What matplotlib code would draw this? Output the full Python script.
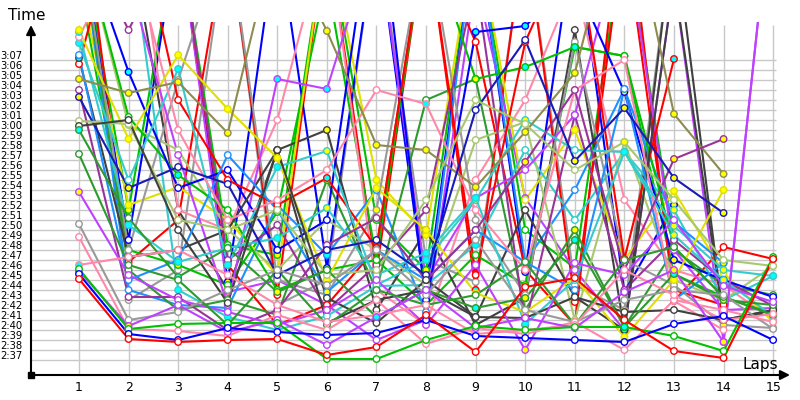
import numpy as np
import matplotlib
matplotlib.use("Agg")
import matplotlib.pyplot as plt
from matplotlib.transforms import ScaledTranslation

N = np.nan
laps = list(range(1, 16))
tick_secs = list(range(157, 188))  # 2:37 .. 3:07

# lap times in seconds, one list per driver (values > 191 run off the top)
d01 = [165.1, 159.1, 158.8, 159.0, 159.1, 157.5, 158.3, 161.5, 157.8, 164.3, 165.2, 161.0, 157.9, 157.2, 167.1]
d02 = [165.6, 159.6, 159.0, 160.2, 159.8, 159.5, 159.7, 161.0, 159.4, 159.2, 159.0, 158.8, 160.6, 161.4, 159.0]
d03 = [166.1, 160.1, 160.6, 160.7, 160.7, 157.1, 157.1, 159.0, 160.4, 160.0, 160.3, 160.3, 159.4, 157.9, 167.3]
d04 = [165.9, 160.4, 162.5, 159.8, 161.0, 158.5, 161.3, 164.0, 160.2, 161.2, 160.2, 163.8, 166.0, 158.8, 205.0]
d05 = [166.5, 167.3, 168.0, 165.5, 162.5, 160.8, 161.5, 162.5, 159.6, 160.0, 160.5, 166.0, 163.5, 161.0, 161.6]
d06 = [169.3, 160.1, 159.9, 159.4, 161.5, 160.0, 163.0, 158.6, 160.2, 159.6, 160.8, 158.0, 163.0, 162.0, 160.8]
d07 = [170.6, 161.0, 161.8, 164.0, 166.0, 164.5, 168.0, 163.5, 169.0, 162.0, 160.8, 163.0, 164.0, 163.5, 160.1]
d08 = [177.6, 166.5, 165.0, 160.5, 166.0, 160.5, 164.0, 162.5, 163.5, 166.8, 160.5, 167.0, 168.3, 163.3, 161.5]
d09 = [173.8, 165.5, 163.0, 161.8, 160.5, 162.0, 165.0, 160.5, 166.5, 158.0, 166.7, 165.5, 171.0, 164.4, 162.8]
d10 = [180.0, 171.2, 165.3, 168.2, 163.8, 166.0, 161.3, 164.0, 162.2, 163.2, 169.0, 160.3, 165.6, 163.0, 162.5]
d11 = [180.4, 181.0, 170.0, 162.7, 178.0, 163.2, 160.7, 165.0, 161.3, 161.2, 163.3, 161.8, 162.0, 161.0, 162.0]
d12 = [180.9, 180.6, 171.0, 170.0, 172.0, 165.5, 166.0, 173.0, 183.0, 180.6, 176.0, 178.8, 173.0, 167.0, 166.4]
d13 = [183.3, 174.2, 176.3, 174.6, 165.5, 168.0, 169.0, 165.5, 182.0, 189.0, 176.9, 182.2, 175.2, 171.7, N]
d14 = [184.0, 163.3, 163.3, 160.0, 162.0, 168.5, 171.2, 165.0, 170.0, 176.8, 184.0, 166.0, 177.1, 179.1, N]
d15 = [185.1, 183.7, 184.8, 179.7, 200.0, 189.9, 178.5, 178.0, 174.3, 179.8, 185.7, 205.0, 181.6, 175.6, N]
d16 = [190.0, 179.1, 187.5, 182.1, 177.2, 165.0, 174.2, 170.0, 163.7, 161.8, 165.2, 159.3, 165.0, 174.0, N]
d17 = [189.8, 170.5, 166.8, 168.2, 169.2, 172.2, 165.5, 167.7, 173.2, 160.6, 165.0, 177.8, 170.4, 166.0, 165.4]
d18 = [189.3, 199.0, 180.0, 171.0, 173.0, 176.0, 184.0, 182.6, 172.0, 166.0, 184.0, 187.0, 162.9, 160.0, N]
d19 = [188.7, 175.0, 186.1, 166.5, 176.3, 177.9, 164.5, 167.0, 173.0, 181.0, 178.0, 177.8, 169.5, 165.0, 161.4]
d20 = [187.5, 165.0, 167.0, 177.5, 172.0, 163.8, 168.0, 165.0, 170.0, 166.8, 164.0, 184.1, 163.0, 166.7, N]
d21 = [187.2, 167.3, 168.0, 170.0, 178.0, 160.7, 163.0, 164.0, 161.3, 172.0, 163.3, 160.0, 195.0, 161.0, 162.0]
d22 = [186.6, 205.0, 183.0, 175.0, 172.5, 175.2, 168.2, 200.0, 165.5, 188.8, 200.0, 167.1, 187.1, N, N]
d23 = [200.0, 185.8, 174.2, 176.0, 168.0, 171.0, 205.0, 162.5, 189.8, 190.4, 195.0, 183.8, 167.0, 165.0, 163.3]
d24 = [200.0, 181.3, 175.5, 172.0, 164.0, 166.0, 167.0, 200.0, 185.1, 186.3, 188.3, 187.4, 168.3, 163.3, 161.6]
d25 = [205.0, 195.0, 177.5, 162.5, 185.1, 184.1, 200.0, 165.0, 173.2, 176.0, 181.5, 200.0, 168.0, 162.0, 162.2]
d26 = [200.0, 190.0, 200.0, 167.0, 170.5, 162.0, 166.5, 172.0, 195.0, 160.5, 181.5, 164.0, 169.0, 165.0, 162.4]
d27 = [200.0, 168.0, 185.0, 200.0, 165.0, 163.5, 172.0, 200.0, 171.0, 163.5, 188.8, 167.0, 164.5, 160.5, 160.2]
d28 = [200.0, 180.5, 178.0, 170.0, 166.0, 171.0, 168.0, 164.5, 179.0, 180.8, 161.0, 178.8, 165.0, 163.0, 166.4]
d30 = [200.0, 166.0, 162.0, 163.0, 161.5, 175.0, 164.0, 183.0, 185.1, 162.0, 170.0, 160.3, 168.0, 164.5, 163.5]
d31 = [200.0, 164.0, 162.5, 162.2, 172.5, 167.5, 174.0, 161.8, 200.0, 166.8, 174.0, 184.1, 170.8, 166.7, N]
d32 = [200.0, 200.0, 164.0, 161.3, 160.0, 161.4, 164.4, 164.5, 168.5, 178.0, 171.0, 177.8, 172.0, 163.0, 165.4]
d33 = [195.0, 172.5, 174.3, 171.0, 165.5, 200.0, 175.0, 169.5, 200.0, 173.0, 180.0, 167.0, 173.9, 165.7, 160.8]
d34 = [200.0, 205.0, 172.0, 170.0, 181.0, 200.0, 164.0, 160.5, 175.0, 183.0, 195.0, 173.0, 166.0, 164.5, 161.0]
d35 = [200.0, 200.0, 172.0, 164.0, 178.0, 180.0, 162.0, 170.0, 160.5, 163.2, 190.0, 160.0, 200.0, 161.0, 161.8]
d36 = [200.0, 200.0, 200.0, 166.5, 160.5, 162.5, 168.2, 200.0, 188.8, 166.0, 160.5, 205.0, 162.9, 168.3, 167.1]
d37 = [195.0, 168.0, 166.5, 164.5, 171.8, 195.0, 167.0, 162.5, 167.5, 164.5, 188.3, 187.4, 165.6, 163.3, N]
d38 = [200.0, 200.0, 200.0, 163.8, 165.0, 162.5, 159.0, 161.0, 195.0, 173.2, 166.0, 160.0, 195.0, 158.8, 205.0]
d39 = [200.0, 169.0, 200.0, 164.8, 200.0, 166.2, 200.0, 163.0, 200.0, 165.8, 200.0, 163.8, 172.5, N, N]
d40 = [205.0, 166.8, 171.0, 200.0, 163.5, 200.0, 165.8, 200.0, 164.0, 200.0, 162.8, 200.0, 164.0, 162.5, N]
d41 = [200.0, 172.0, 200.0, 168.5, 167.5, 200.0, 171.0, 166.0, 200.0, 170.0, 166.2, 200.0, 169.0, N, N]
d42 = [205.0, 163.0, 166.0, 200.0, 162.5, 165.0, 200.0, 167.0, 164.8, 200.0, 164.5, 162.0, 200.0, N, N]

RED, BLUE, GREEN, FOREST = "#ff0000", "#0000ff", "#00c000", "#2e9a2e"
VIOLET, PURPLE, GRAY, PINK = "#c040ff", "#993399", "#999999", "#ff88aa"
TEAL, SKY, YELLOW, OLIVE = "#33cccc", "#1e90ff", "#e0e000", "#8c8c50"
DARK, LOLIVE, NAVY = "#404040", "#a8c870", "#1a1ab4"

drivers = [
    (d42, GRAY,   "wwwwwwwywwwyww"),
    (d41, GREEN,  "wywwywwywwywwww"),
    (d40, RED,    "wwywwwwwcwwwyww"),
    (d39, BLUE,   "wwwywwcwwwywyww"),
    (d38, VIOLET, "wwwywwwwwcwwwyw"),
    (d37, GREEN,  "wwywwwyywywyyyw"),
    (d36, RED,    "wwwwwwywwwwwyww"),
    (d35, DARK,   "wwwwwywwwywwwyw"),
    (d34, PINK,   "wwwwwwwwwwwwwyw"),
    (d33, YELLOW, "wywywwyywwywywy"),
    (d32, TEAL,   "wwcccwcwcwwcycc"),
    (d31, SKY,    "wwwcwcwwwwwwwyw"),
    (d30, FOREST, "wwywwywwywyywyw"),
    (d28, LOLIVE, "wwwwwwwwwwywywy"),
    (d27, GRAY,   "wwwwwwywwwwwwyw"),
    (d26, PURPLE, "wwwwwwwwwwwwwyw"),
    (d25, VIOLET, "wwwwccwwcwwwwyw"),
    (d24, GREEN,  "wwcwwcwwyccwwww"),
    (d23, BLUE,   "wcwwwwwwccwyyww"),
    (d22, RED,    "wwwwwcwwwcwcccw"),
    (d21, DARK,   "cwwywywwwwwcwyw"),
    (d20, SKY,    "wwywwywwywwwwyw"),
    (d19, TEAL,   "cwcccywcyywcyyc"),
    (d18, PINK,   "wwwwwwwcwwwwwww"),
    (d17, TEAL,   "cccycywcccwcyyc"),
    (d16, YELLOW, "yyyyyyyyyyyyyyy"),
    (d15, OLIVE,  "yyyyyyyyyyyyyyy"),
    (d14, PURPLE, "wwwwwwwwwywwyyw"),
    (d13, NAVY,   "yywwwwwwwwyyyyw"),
    (d12, LOLIVE, "wwwwwwwwwwwywww"),
    (d11, DARK,   "wwwwwwwwwwwwwyw"),
    (d10, FOREST, "cwcwywcwcycwcyw"),
    (d09, VIOLET, "ywwwwwwwwywwwww"),
    (d08, FOREST, "wwwwwwwwwwwwwww"),
    (d07, GRAY,   "wwwwwwwwwwwwwww"),
    (d06, PINK,   "wwwwwwwwwwwwwww"),
    (d05, PINK,   "cwwwwwwwwwwwwww"),
    (d04, VIOLET, "wywwwwcwwwywyyw"),
    (d03, GREEN,  "wwwwwwwwwwwcwww"),
    (d02, BLUE,   "wwwwwwwwwwwwwww"),
    (d01, RED,    "wwwwwwwwwwwwwww"),
]
FACE = {"w": "white", "y": "#ffff00", "c": "#00ffff"}

W, H = 800, 400
fig = plt.figure(figsize=(W / 100, H / 100), dpi=100)
L, R, B, T = 31, 790, 375, 22
ax = fig.add_axes([L / W, (H - B) / H, (R - L) / W, (B - T) / H])
ax.set_xlim(0.032, 15.34)
ax.set_ylim(155.5, 190.8)
for s in ax.spines.values():
    s.set_visible(False)

# grid
ax.hlines(tick_secs, 0.032, 15.06, colors="#c8c8c8", lw=1.0, zorder=0)
ax.vlines(laps, 155.5, 190.5, colors="#c8c8c8", lw=1.0, zorder=0)

for i, (vals, col, faces) in enumerate(drivers):
    v = np.array(vals, dtype=float)
    ax.plot(laps, v, color=col, lw=1.5, zorder=2 + i * 0.01, solid_capstyle="round")
    m = ~np.isnan(v)
    faces = (faces + "w" * 15)[:15]
    fc = [FACE[f] for f, ok in zip(faces, m) if ok]
    ax.scatter(np.array(laps)[m], v[m], s=22, facecolors=fc, edgecolors=col,
               linewidths=1.0, zorder=3 + i * 0.01)

# ticks
ax.set_xticks(laps)
ax.set_xticklabels([str(x) for x in laps], fontsize=9)
ax.set_yticks(tick_secs)
ax.set_yticklabels([f"{s // 60}:{s % 60:02d}" for s in tick_secs], fontsize=7.2)
ax.tick_params(axis="both", length=0)
ax.tick_params(axis="y", pad=6)
ax.tick_params(axis="x", pad=4)
off = ScaledTranslation(0, 5 / 100, fig.dpi_scale_trans)
for lab in ax.get_yticklabels():
    lab.set_transform(lab.get_transform() + off)

# axes with arrows
ax.annotate("", xy=(0, 1.0 - 3 / (B - T)), xytext=(0, 0), xycoords="axes fraction",
            arrowprops=dict(arrowstyle="-|>", color="black", lw=1.5,
                            mutation_scale=14, shrinkA=0, shrinkB=0), annotation_clip=False)
ax.annotate("", xy=(1.0, 0), xytext=(0, 0), xycoords="axes fraction",
            arrowprops=dict(arrowstyle="-|>", color="black", lw=1.5,
                            mutation_scale=14, shrinkA=0, shrinkB=0), annotation_clip=False)
ax.plot([0], [0], marker="s", ms=4, color="black", transform=ax.transAxes, clip_on=False, zorder=10)

fig.text(8 / W, 1 - 15 / H, "Time", fontsize=11, va="center", ha="left")
fig.text(742 / W, 1 - 365 / H, "Laps", fontsize=11, va="center", ha="left")

fig.savefig("out.png", dpi=100)
